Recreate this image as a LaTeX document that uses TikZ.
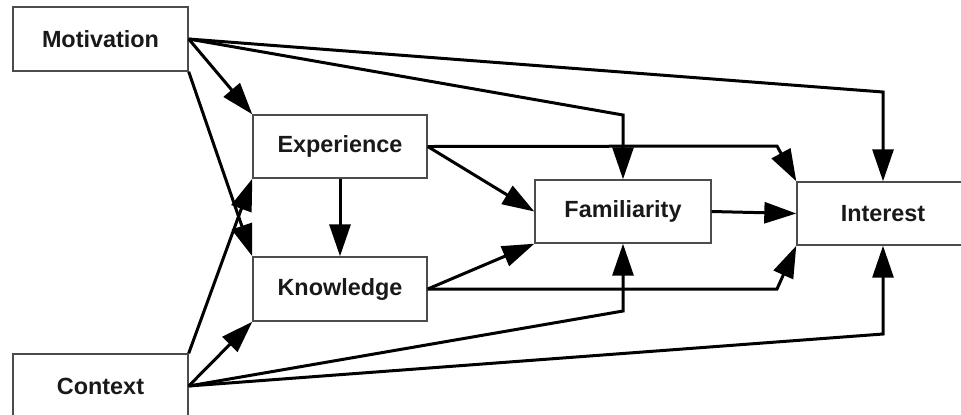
\documentclass[tikz,border=0pt]{standalone}
\usepackage{fontspec}
\setmainfont{Liberation Sans}
\usetikzlibrary{arrows.meta}
\begin{document}
\begin{tikzpicture}[x=0.5pt,y=-0.5pt,
  box/.style={draw=black!70,line width=0.7pt,fill=white,inner sep=0pt,
    font=\fontsize{11.7}{14}\selectfont\bfseries,text=black!90},
  link/.style={line width=1.5pt,-{Triangle[length=16pt,width=10.5pt]}}]
\useasboundingbox (0,0) rectangle (961,414);
\clip (0,0) rectangle (961,414);
% boxes (centres and sizes in pixel units)
\node[box,minimum width=87.5pt,minimum height=32pt] (mot) at (100.5,39) {Motivation};
\node[box,minimum width=87pt,minimum height=31.5pt] (exp) at (340,146.5) {Experience};
\node[box,minimum width=87pt,minimum height=32pt] (kno) at (340,289) {Knowledge};
\node[box,minimum width=87.5pt,minimum height=32pt] (ctx) at (100.5,386) {Context};
\node[box,minimum width=88pt,minimum height=31.5pt] (fam) at (623,211.5) {Familiarity};
\node[box,minimum width=86pt,minimum height=31.5pt] (int) at (883,213.5) {Interest};
% bend points of the routed connectors
\coordinate (mf) at (623,115);
\coordinate (mi) at (883,92);
\coordinate (ei) at (777,146);
\coordinate (ki) at (777,289);
\coordinate (cf) at (623,311);
\coordinate (ci) at (883,334);
% connectors
\draw[link] (mot.east) -- (exp.north west);
\draw[link] (mot.south east) -- (kno.north west);
\draw[link] (ctx.north east) -- (exp.south west);
\draw[link] (ctx.east) -- (kno.south west);
\draw[link] (mot.east) -- (mf) -- (fam.north);
\draw[link] (mot.east) -- (mi) -- (int.north);
\draw[link] (exp.east) -- (ei) -- (int.north west);
\draw[link] (exp.east) -- (fam.west);
\draw[link] (exp.south) -- (kno.north);
\draw[link] (kno.east) -- (fam.south west);
\draw[link] (kno.east) -- (ki) -- (int.south west);
\draw[link] (fam.east) -- (int.west);
\draw[link] (ctx.east) -- (cf) -- (fam.south);
\draw[link] (ctx.east) -- (ci) -- (int.south);
\end{tikzpicture}
\end{document}
